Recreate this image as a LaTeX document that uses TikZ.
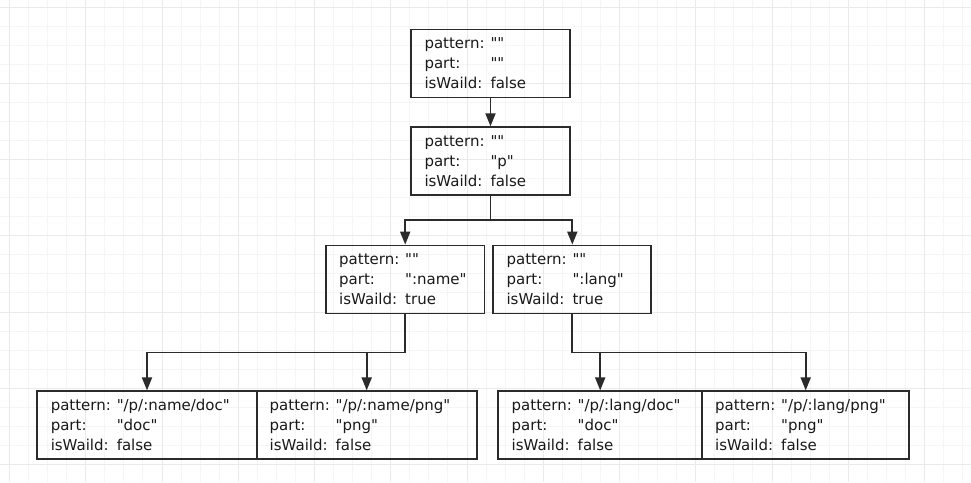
\documentclass[tikz,border=0pt]{standalone}
\usepackage{fontspec}
\setmainfont{DejaVu Sans}[Ligatures=TeXOff]
\usetikzlibrary{arrows.meta}
\definecolor{ink}{HTML}{2B2B2B}
\definecolor{txt}{HTML}{1A1A1A}
\definecolor{gridminor}{HTML}{F5F5F5}
\definecolor{gridmajor}{HTML}{EAEAEA}
\newcommand{\q}{"}
\newcommand{\kv}[2]{\makebox[66pt][l]{#1}#2}
\newcommand{\rec}[3]{\kv{pattern:}{\q#1\q}\\\kv{part:}{\q#2\q}\\\kv{isWaild:}{#3}}
\tikzset{
  box/.style={draw=ink, line width=1.8pt, rectangle, inner sep=0pt,
    minimum height=68pt, text=txt, align=left,
    font=\fontsize{15}{20}\selectfont},
  conn/.style={draw=ink, line width=1.8pt, -{Triangle[length=13pt,width=10pt]}},
  line/.style={draw=ink, line width=1.8pt},
}
\begin{document}
\begin{tikzpicture}[x=1pt,y=-1pt]
\useasboundingbox (0,0) rectangle (971,482);
\fill[white] (0,0) rectangle (971,482);
% grid
\foreach \i in {-1,...,51} {
  \draw[gridminor, line width=1pt] ({9.5+19.0625*\i},0) -- ({9.5+19.0625*\i},482);
}
\foreach \i in {-1,...,25} {
  \draw[gridminor, line width=1pt] (0,{7+19.0625*\i}) -- (971,{7+19.0625*\i});
}
\foreach \i in {0,...,12} {
  \draw[gridmajor, line width=1pt] ({9.5+76.25*\i},0) -- ({9.5+76.25*\i},482);
}
\foreach \i in {0,...,6} {
  \draw[gridmajor, line width=1pt] (0,{7+76.25*\i}) -- (971,{7+76.25*\i});
}
% nodes
\node[box, minimum width=158.5pt, text width=132pt] (A) at (490.5,63.5) {\rec{}{}{false}};
\node[box, minimum width=158.5pt, text width=132pt] (B) at (490.5,161.2) {\rec{}{p}{false}};
\node[box, minimum width=158.5pt, text width=132pt] (C) at (405.2,279.5) {\rec{}{:name}{true}};
\node[box, minimum width=158pt, text width=131.5pt] (D) at (572.3,279.5) {\rec{}{:lang}{true}};
\node[box, minimum width=219.4pt, text width=192.5pt] (E) at (147,425.3) {\rec{/p/:name/doc}{doc}{false}};
\node[box, minimum width=220pt, text width=194pt] (F) at (366.7,425.3) {\rec{/p/:name/png}{png}{false}};
\node[box, minimum width=203.7pt, text width=177pt] (G) at (600.2,425.3) {\rec{/p/:lang/doc}{doc}{false}};
\node[box, minimum width=207.3pt, text width=181pt] (H) at (805.7,425.3) {\rec{/p/:lang/png}{png}{false}};
% junction points
\coordinate (jB) at (B.south |- 0,220);
\coordinate (jC) at (C.south |- 0,352.5);
\coordinate (jD) at (D.south |- 0,352.5);
% connectors
\draw[conn] (A.south) -- (B.north);
\draw[line] (B.south) -- (jB);
\draw[conn] (jB) -| (C.north);
\draw[conn] (jB) -| (D.north);
\draw[line] (C.south) -- (jC);
\draw[conn] (jC) -| (E.north);
\draw[conn] (jC) -| (F.north);
\draw[line] (D.south) -- (jD);
\draw[conn] (jD) -| (G.north);
\draw[conn] (jD) -| (H.north);
\end{tikzpicture}
\end{document}
